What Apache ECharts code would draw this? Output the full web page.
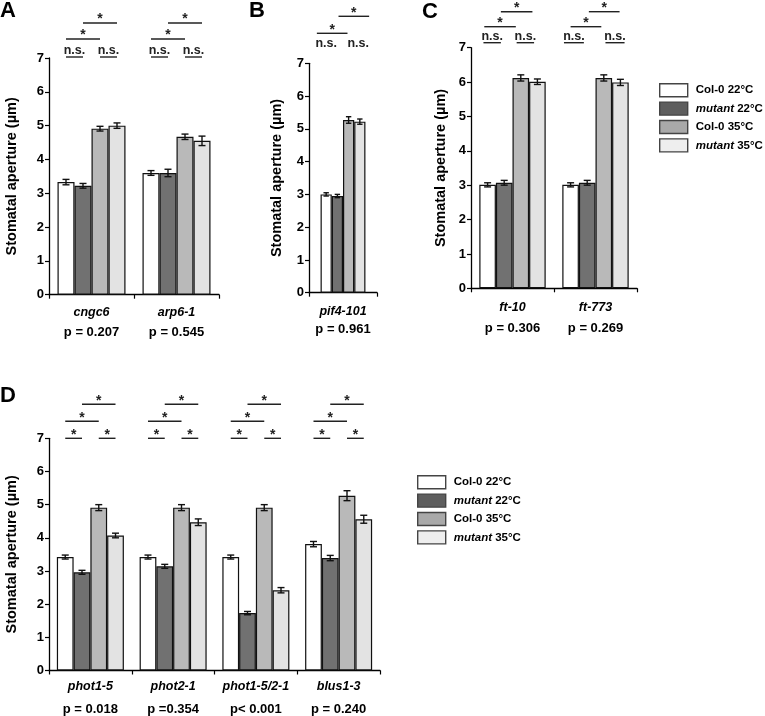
<!DOCTYPE html>
<html>
<head>
<meta charset="utf-8">
<script src="https://cdn.jsdelivr.net/npm/echarts@6/dist/echarts.min.js"></script>
<style>html,body{margin:0;padding:0;background:#fff}#c{width:765px;height:716px}</style>
</head>
<body>
<div id="c"></div>
<script>
// ---------- data ----------
const seriesNames = ['Col-0 22°C', 'mutant 22°C', 'Col-0 35°C', 'mutant 35°C'];
const yTicks = [0, 1, 2, 3, 4, 5, 6, 7];
const annLabels = ['*', 'n.s.'];

// Panel A
const catA = ['cngc6', 'arp6-1'];
const pA = ['p = 0.207', 'p = 0.545'];
const valA = [[3.33, 3.60], [3.22, 3.60], [4.91, 4.67], [5.00, 4.55]];
const errA = [[0.08, 0.07], [0.07, 0.11], [0.07, 0.08], [0.08, 0.14]];
// [category, fromBar, toBar, level, labelIndex]
const annA = [
  [0, 0, 1, 0, 1], [0, 2, 3, 0, 1], [0, 0, 2, 1, 0], [0, 1, 3, 2, 0],
  [1, 0, 1, 0, 1], [1, 2, 3, 0, 1], [1, 0, 2, 1, 0], [1, 1, 3, 2, 0]
];

// Panel B
const catB = ['pif4-101'];
const pB = ['p = 0.961'];
const valB = [[3.00], [2.95], [5.27], [5.22]];
const errB = [[0.05], [0.05], [0.10], [0.08]];
const annB = [
  [0, 0.0, 0.0, 0, 1], [0, 2.85, 2.85, 0, 1], [0, -0.83, 1.9, 1, 0], [0, 1.1, 3.83, 2, 0]
];

// Panel C
const catC = ['ft-10', 'ft-773'];
const pC = ['p = 0.306', 'p = 0.269'];
const valC = [[3.01, 3.01], [3.07, 3.07], [6.12, 6.12], [6.01, 5.99]];
const errC = [[0.06, 0.06], [0.07, 0.07], [0.09, 0.09], [0.08, 0.09]];
const annC = [
  [0, -0.25, 0.8, 0, 1], [0, 1.75, 2.8, 0, 1], [0, -0.2, 1.7, 1, 0], [0, 0.8, 2.7, 2, 0],
  [1, -0.4, 0.8, 0, 1], [1, 2.1, 3.25, 0, 1], [1, 0.0, 1.85, 1, 0], [1, 1.1, 2.95, 2, 0]
];

// Panel D
const catD = ['phot1-5', 'phot2-1', 'phot1-5/2-1', 'blus1-3'];
const pD = ['p = 0.018', 'p =0.354', 'p< 0.001', 'p = 0.240'];
const valD = [[3.42, 3.42, 3.42, 3.81], [2.96, 3.14, 1.73, 3.39], [4.91, 4.91, 4.91, 5.27], [4.07, 4.47, 2.42, 4.56]];
const errD = [[0.06, 0.06, 0.06, 0.08], [0.06, 0.06, 0.05, 0.08], [0.09, 0.09, 0.09, 0.15], [0.07, 0.10, 0.08, 0.12]];
const annD = [];
[0, 1, 2, 3].forEach(c => {
  annD.push([c, 0, 1, 0, 0], [c, 2, 3, 0, 0], [c, 0, 2, 1, 0], [c, 1, 3, 2, 0]);
});

// ---------- styles ----------
const FONT = '"Liberation Sans", Arial, sans-serif';
const barColors = ['#ffffff', '#717171', '#b9b9b9', '#e3e3e3'];
const legendColors = ['#ffffff', '#5e5e5e', '#a9a9a9', '#eeeeee'];

const panels = [
  { letter: 'A', cats: catA, ps: pA, vals: valA, errs: errA, ann: annA,
    grid: { left: 49, top: 58, width: 170, height: 236.7 }, gap: 0.20,
    levels: [1, 19, 35], underline: true, nameGap: 30, lh: 20, margin: 8, lx: 0, ly: 0 },
  { letter: 'B', cats: catB, ps: pB, vals: valB, errs: errB, ann: annB,
    grid: { left: 309, top: 63.3, width: 68, height: 229.4 }, gap: 0.34,
    levels: [20, 30, 47], underline: false, nameGap: 25, lh: 18, margin: 10, lx: 249, ly: 0 },
  { letter: 'C', cats: catC, ps: pC, vals: valC, errs: errC, ann: annC,
    grid: { left: 471, top: 47.7, width: 166, height: 240.6 }, gap: 0.20,
    levels: [5, 21, 36], underline: true, nameGap: 23, lh: 21, margin: 8.5, lx: 422, ly: 1 },
  { letter: 'D', cats: catD, ps: pD, vals: valD, errs: errD, ann: annD,
    grid: { left: 49, top: 438.3, width: 331, height: 232.7 }, gap: 0.19,
    levels: [0, 17, 34], underline: true, nameGap: 30, lh: 23, margin: 4.5, lx: 0, ly: 385 }
];

function errRender(gap) {
  return function (params, api) {
    const c = api.value(0), v = api.value(1), e = api.value(2), s = api.value(3);
    const base = api.coord([c, v]);
    const bw = api.size([1, 0])[0] * (1 - gap) / 4;
    const x = base[0] + (s - 1.5) * bw;
    const top = api.coord([c, v + e])[1], bot = api.coord([c, v - e])[1];
    const hw = Math.min(3.5, bw * 0.24);
    const st = { stroke: '#111', lineWidth: 1.4 };
    return { type: 'group', children: [
      { type: 'line', shape: { x1: x, y1: top, x2: x, y2: bot }, style: st },
      { type: 'line', shape: { x1: x - hw, y1: top, x2: x + hw, y2: top }, style: st },
      { type: 'line', shape: { x1: x - hw, y1: bot, x2: x + hw, y2: bot }, style: st }
    ] };
  };
}

function annRender(p) {
  return function (params, api) {
    const c = api.value(0), a = api.value(2), b = api.value(3), lvl = api.value(4), li = api.value(5);
    const base = api.coord([c, 7]);
    const bw = api.size([1, 0])[0] * (1 - p.gap) / 4;
    const xa = base[0] + (a - 1.5) * bw, xb = base[0] + (b - 1.5) * bw;
    const y = base[1] - p.levels[lvl];
    const label = annLabels[li];
    const children = [];
    const drawLine = !(label === 'n.s.' && !p.underline);
    if (drawLine) {
      children.push({ type: 'line', shape: { x1: xa, y1: y, x2: xb, y2: y }, style: { stroke: '#222', lineWidth: 1.4 } });
    }
    const isStar = label === '*';
    children.push({ type: 'text', x: (xa + xb) / 2, y: isStar ? y - 3.5 : (drawLine ? y - 6 : y),
      style: { text: label, fill: '#222', font: 'bold ' + (isStar ? 14 : 12.5) + 'px ' + FONT,
        align: 'center', verticalAlign: 'middle' } });
    return { type: 'group', children: children };
  };
}

const grids = [], xAxes = [], yAxes = [], series = [], graphics = [];
panels.forEach((p, gi) => {
  grids.push(p.grid);
  xAxes.push({
    type: 'category', gridIndex: gi, data: p.cats,
    axisLine: { lineStyle: { color: '#000', width: 1.3 } },
    axisTick: { show: true, length: 4, lineStyle: { color: '#000', width: 1.2 } },
    axisLabel: {
      interval: 0, margin: p.margin, color: '#000',
      formatter: (v, i) => '{g|' + v + '}\n{p|' + p.ps[i] + '}',
      rich: {
        g: { fontFamily: FONT, fontWeight: 'bold', fontStyle: 'italic', fontSize: 12.5, lineHeight: p.lh, color: '#000' },
        p: { fontFamily: FONT, fontWeight: 'bold', fontSize: 13, lineHeight: p.lh, color: '#000' }
      }
    },
    splitLine: { show: false }
  });
  yAxes.push({
    type: 'value', gridIndex: gi, min: yTicks[0], max: yTicks[yTicks.length - 1], interval: 1,
    name: 'Stomatal aperture (µm)', nameLocation: 'middle', nameGap: p.nameGap,
    nameTextStyle: { fontFamily: FONT, fontWeight: 'bold', fontSize: 14.5, color: '#000' },
    axisLine: { show: true, lineStyle: { color: '#000', width: 1.3 } },
    axisTick: { show: true, length: 4, lineStyle: { color: '#000', width: 1.2 } },
    axisLabel: { margin: 5, fontFamily: FONT, fontWeight: 'bold', fontSize: 13, color: '#000' },
    splitLine: { show: false }
  });
  seriesNames.forEach((n, s) => {
    series.push({
      type: 'bar', name: n, xAxisIndex: gi, yAxisIndex: gi, data: p.vals[s],
      barGap: '0%', barCategoryGap: (p.gap * 100) + '%',
      itemStyle: { color: barColors[s], borderColor: '#111', borderWidth: 1.2 },
      emphasis: { disabled: true }, silent: true
    });
  });
  const ed = [];
  for (let s = 0; s < 4; s++) for (let c = 0; c < p.cats.length; c++) ed.push([c, p.vals[s][c], p.errs[s][c], s]);
  series.push({ type: 'custom', xAxisIndex: gi, yAxisIndex: gi, data: ed, renderItem: errRender(p.gap),
    encode: { x: 0, y: 1 }, clip: false, silent: true, z: 5 });
  const ad = p.ann.map(a => [a[0], 7, a[1], a[2], a[3], a[4]]);
  series.push({ type: 'custom', xAxisIndex: gi, yAxisIndex: gi, data: ad, renderItem: annRender(p),
    encode: { x: 0, y: 1 }, clip: false, silent: true, z: 5 });
  graphics.push({ type: 'text', left: p.lx, top: p.ly,
    style: { text: p.letter, font: 'bold 22px ' + FONT, fill: '#000' } });
});

function legendCfg(left, top) {
  return {
    orient: 'vertical', left: left, top: top, itemWidth: 28, itemHeight: 13, itemGap: 4, padding: 0,
    icon: 'rect', selectedMode: false,
    data: seriesNames.map((n, i) => ({ name: n, itemStyle: { color: legendColors[i], borderColor: '#444', borderWidth: 1.4 } })),
    formatter: n => n.indexOf('mutant') === 0 ? '{i|mutant}' + n.slice(6) : n,
    textStyle: { fontFamily: FONT, fontWeight: 'bold', fontSize: 11.5, color: '#000', padding: [0, 0, 0, 3],
      rich: { i: { fontFamily: FONT, fontWeight: 'bold', fontStyle: 'italic', fontSize: 11.5, color: '#000' } } }
  };
}

const chart = echarts.init(document.getElementById('c'), null, { renderer: 'canvas' });
chart.setOption({
  animation: false,
  backgroundColor: '#fff',
  grid: grids, xAxis: xAxes, yAxis: yAxes, series: series,
  legend: [legendCfg(659, 83), legendCfg(417, 475)],
  graphic: graphics
});
</script>
</body>
</html>
